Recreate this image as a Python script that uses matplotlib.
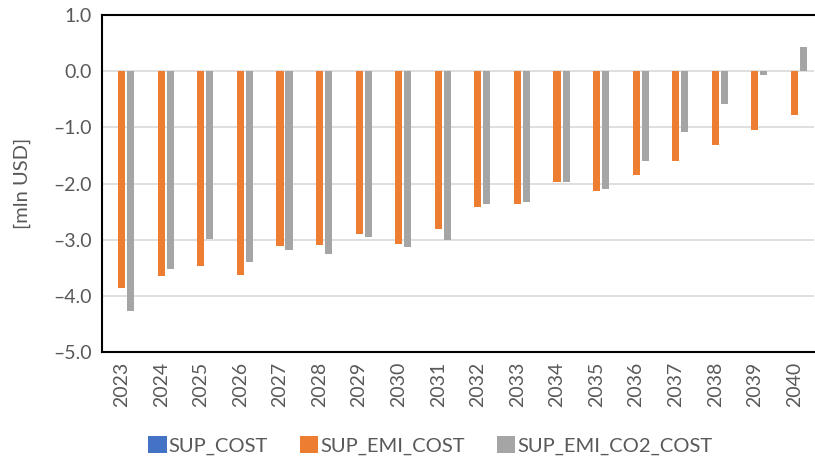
import numpy as np
import matplotlib
matplotlib.use("Agg")
import matplotlib.pyplot as plt

plt.rcParams['font.family'] = ['Lato', 'DejaVu Sans']

# datos
anios = [str(a) for a in range(2023, 2041)]
sup_cost = [0.0] * 18
sup_emi_cost = [-3.86, -3.64, -3.46, -3.63, -3.11, -3.10, -2.89, -3.07, -2.80,
                -2.41, -2.37, -1.98, -2.13, -1.85, -1.59, -1.32, -1.05, -0.77]
sup_emi_co2_cost = [-4.27, -3.52, -2.98, -3.40, -3.18, -3.25, -2.95, -3.13, -3.00,
                    -2.37, -2.32, -1.98, -2.10, -1.59, -1.08, -0.58, -0.07, 0.43]

series = ["SUP_COST", "SUP_EMI_COST", "SUP_EMI_CO2_COST"]
colores = ["#4472C4", "#ED7D31", "#A5A5A5"]

fig = plt.figure(figsize=(8.15, 4.59), dpi=100)
ax = fig.add_axes([0.125, 0.233, 0.874, 0.734])

x = np.arange(len(anios))
ancho = 0.18
paso = 0.23
for i, (nombre, valores) in enumerate(zip(series, [sup_cost, sup_emi_cost, sup_emi_co2_cost])):
    ax.bar(x + (i - 1) * paso, valores, width=ancho, color=colores[i], label=nombre, zorder=3)

ax.set_xlim(-0.5, len(anios) - 0.5)
ax.set_ylim(-5, 1)
marcas = np.arange(-5, 1.1, 1)
ax.set_yticks(marcas)
ax.set_yticklabels([f"{v:.1f}".replace("-", "\u2013") for v in marcas])
ax.yaxis.grid(True, color="#D9D9D9", linewidth=1.2, zorder=0)
ax.set_axisbelow(True)

ax.set_xticks(x)
ax.set_xticklabels(anios, rotation=90)
ax.tick_params(axis="both", length=0, labelsize=14, colors="#595959", pad=7)

for lado in ["left", "top", "bottom"]:
    ax.spines[lado].set_color("black")
    ax.spines[lado].set_linewidth(1.5)
ax.spines["right"].set_visible(False)

ax.set_ylabel("[mln USD]", fontsize=14.5, color="#595959", labelpad=16)

fig.legend(loc="center", bbox_to_anchor=(0.528, 0.03), ncol=3, frameon=False,
           fontsize=14.5, handlelength=0.9, handleheight=0.9, handletextpad=0.1,
           columnspacing=1.6, labelcolor="#595959")

fig.savefig("out.png", dpi=100)
